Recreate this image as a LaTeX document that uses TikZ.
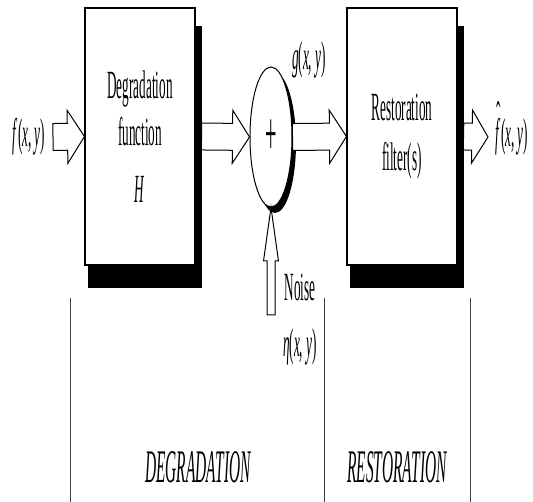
\documentclass[tikz,border=0pt]{standalone}
\usepackage{fontspec}
\setmainfont{Liberation Serif}
\newfontfamily\narrowfont[FakeStretch=0.33]{Liberation Serif}
\usetikzlibrary{calc,shapes.geometric,backgrounds}

% hollow block arrow: tail, tip, shaft half width, head half width, head length
\newcommand{\hollowarrow}[5]{%
  \coordinate (hb) at ($(#2)!#5!(#1)$);
  \draw[blockarrow] ($(#1)!#3!90:(#2)$) -- ($(hb)!#3!90:(#2)$) -- ($(hb)!#4!90:(#2)$) -- (#2)
    -- ($(hb)!#4!-90:(#2)$) -- ($(hb)!#3!-90:(#2)$) -- ($(#1)!#3!-90:(#2)$) -- cycle;}
% f with a hat
\newcommand{\hatf}{\ooalign{\textit{f}\cr\hidewidth\raisebox{0.42em}{ˆ}\hidewidth\cr}}

\begin{document}
\begin{tikzpicture}[x=0.75pt,y=0.75pt,yscale=-1,xscale=1,
  stagebox/.style={draw, fill=white, line width=0.8pt, minimum width=82.5pt, minimum height=192.75pt, inner sep=0pt, align=center},
  sigtext/.style={inner sep=0pt, font=\narrowfont\fontsize{30}{36}\selectfont},
  stagetext/.style={inner sep=0pt, font=\narrowfont\itshape\fontsize{35}{40}\selectfont},
  blockarrow/.style={draw, fill=white, line width=0.75pt, line join=miter},
  divider/.style={draw=black!75, line width=0.6pt}]
\useasboundingbox (0,0) rectangle (533,502);

% blocks
\node[stagebox, font=\narrowfont\fontsize{30}{35}\selectfont] (deg) at (140,136.5) {Degradation\\function\\[8pt]\textit{H}};
\node[stagebox, font=\narrowfont\fontsize{30}{37.5}\selectfont] (res) at (402,136.5) {Restoration\\filter(s)};
\node[ellipse, draw, fill=white, line width=0.75pt, minimum width=31.5pt, minimum height=105pt, inner sep=0pt,
  font=\narrowfont\fontsize{46}{50}\selectfont] (sum) at (271,137) {+};

% shadows
\begin{scope}[on background layer]
\fill ([shift={(4,19)}]deg.north west) rectangle ([shift={(6,22)}]deg.south east);
\fill ([shift={(4,19)}]res.north west) rectangle ([shift={(6,22)}]res.south east);
\fill ([shift={(4,6)}]sum.center) ellipse [x radius=21, y radius=70];
\end{scope}

% signals
\node[sigtext] (fin) at (29,137) {\textit{f}(\textit{x}, \textit{y})};
\node[sigtext] (gout) at (309,60) {\textit{g}(\textit{x}, \textit{y})};
\node[sigtext] (fhat) at (512,137) {\hatf(\textit{x}, \textit{y})};
\node[sigtext] (noise) at (300,287) {Noise};
\node[sigtext] (eta) at (300,347) {\textit{η}(\textit{x}, \textit{y})};

\coordinate (intail) at (53,137);
\coordinate (degout) at ([shift={(6,0)}]deg.east);
\coordinate (resout) at ([shift={(6,0)}]res.east);
\coordinate (outtip) at (488,137);
\coordinate (noisetail) at (271,315);

% arrows
\hollowarrow{intail}{deg.west}{10.1pt}{19.9pt}{12.75pt}
\hollowarrow{degout}{sum.west}{10.1pt}{19.9pt}{12.75pt}
\hollowarrow{sum.east}{res.west}{10.1pt}{19.9pt}{12.75pt}
\hollowarrow{resout}{outtip}{10.1pt}{19.9pt}{12pt}
\hollowarrow{noisetail}{sum.south}{3pt}{5.6pt}{40pt}

% stages
\draw[divider] (70,298) -- (70,502);
\draw[divider] (324,298) -- (324,502);
\draw[divider] (470,298) -- (470,502);
\node[stagetext] (degr) at (198,467) {DEGRADATION};
\node[stagetext] (rest) at (397,467) {RESTORATION};

\end{tikzpicture}
\end{document}
